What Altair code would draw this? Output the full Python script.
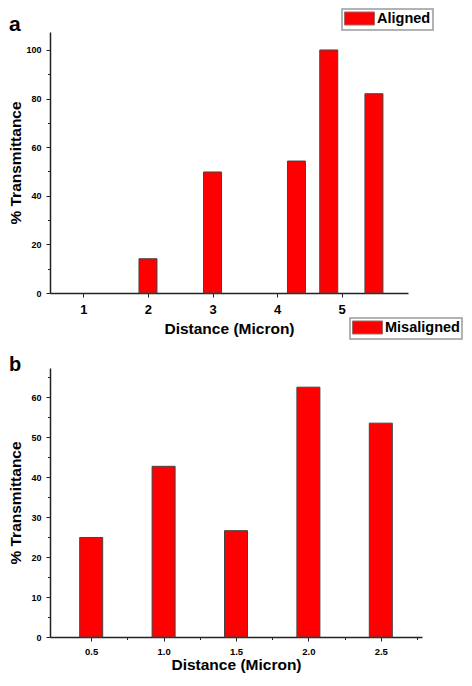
import altair as alt
import pandas as pd

# ---- data ----
a_distance = [2.0, 3.0, 4.3, 4.8, 5.5]
a_transmittance = [14.1, 49.8, 54.3, 100.0, 82.0]
a_series = ["Aligned"] * 5

b_distance = [0.5, 1.0, 1.5, 2.0, 2.5]
b_transmittance = [24.9, 42.7, 26.6, 62.5, 53.5]
b_series = ["Misaligned"] * 5

a_x_ticks = [1, 1.5, 2, 2.5, 3, 3.5, 4, 4.5, 5, 5.5]
a_y_ticks = [0, 10, 20, 30, 40, 50, 60, 70, 80, 90, 100]
b_x_ticks = [0.5, 0.75, 1.0, 1.25, 1.5, 1.75, 2.0, 2.25, 2.5, 2.75]
b_y_ticks = [0, 5, 10, 15, 20, 25, 30, 35, 40, 45, 50, 55, 60, 65]

df_a = pd.DataFrame({"distance": a_distance, "transmittance": a_transmittance, "series": a_series})
df_b = pd.DataFrame({"distance": b_distance, "transmittance": b_transmittance, "series": b_series})

FONT = "Liberation Sans"
RED = "#ff0000"
SWATCH = "M-1,-0.93L3.29,-0.93L3.29,0.93L-1,0.93Z"


def axis(values, title, major_test, label_size, fmt, label_pad=5, title_pad=4):
    return alt.Axis(
        values=values,
        title=title,
        format=fmt,
        labelExpr=f"({major_test}) ? datum.label : ''",
        tickSize={"condition": {"test": f"!({major_test})", "value": 2.5}, "value": 4},
        labelFontSize=label_size,
        labelFont=FONT,
        labelFontWeight="bold",
        labelColor="black",
        labelPadding=label_pad,
        titleFont=FONT,
        titleFontSize=15.5,
        titleFontWeight="bold",
        titleColor="black",
        titlePadding=title_pad,
        domainColor="#222",
        domainWidth=1.5,
        tickColor="#222",
        tickWidth=1,
        grid=False,
        labelFlush=False,
        labelOverlap=False,
    )


def legend(x, y):
    return alt.Legend(
        title=None,
        orient="none",
        legendX=x,
        legendY=y,
        symbolType=SWATCH,
        symbolSize=196,
        symbolStrokeColor="#a06a6a",
        symbolStrokeWidth=1,
        labelFont=FONT,
        labelFontSize=14.5,
        labelFontWeight="bold",
        labelColor="black",
        labelOffset=18,
        strokeColor="#9a9a9a",
        fillColor="white",
        padding=2,
    )


panel_a = alt.Chart(df_a).mark_bar(size=18, stroke="#444", strokeWidth=1).encode(
    x=alt.X("distance:Q",
            scale=alt.Scale(domain=[0.56, 5.95], nice=False, zero=False),
            axis=axis(a_x_ticks, "Distance (Micron)", "datum.value % 1 == 0", 13, "d",
                      label_pad=6, title_pad=5)),
    y=alt.Y("transmittance:Q",
            scale=alt.Scale(domain=[0, 107.4], nice=False),
            axis=axis(a_y_ticks, "% Transmittance", "datum.value % 20 == 0", 9, "d",
                      label_pad=5, title_pad=2)),
    color=alt.Color("series:N", scale=alt.Scale(domain=["Aligned"], range=[RED]),
                    legend=legend(292, -23)),
).properties(
    width=358, height=261,
    title=alt.TitleParams("a", anchor="start", frame="bounds", font=FONT, fontSize=21,
                          fontWeight="bold", color="black", offset=-32, dy=-5),
)

panel_b = alt.Chart(df_b).mark_bar(size=23, stroke="#444", strokeWidth=1).encode(
    x=alt.X("distance:Q",
            scale=alt.Scale(domain=[0.25, 2.75], nice=False, zero=False),
            axis=axis(b_x_ticks, "Distance (Micron)", "(datum.value * 2) % 1 == 0", 9.5, ".1f",
                      label_pad=5, title_pad=2)),
    y=alt.Y("transmittance:Q",
            scale=alt.Scale(domain=[0, 67.3], nice=False),
            axis=axis(b_y_ticks, "% Transmittance", "datum.value % 10 == 0", 9, "d",
                      label_pad=5, title_pad=7)),
    color=alt.Color("series:N", scale=alt.Scale(domain=["Misaligned"], range=[RED]),
                    legend=legend(300, -50)),
).properties(
    width=372, height=269,
    title=alt.TitleParams("b", anchor="start", frame="bounds", font=FONT, fontSize=20,
                          fontWeight="bold", color="black", offset=-57.5),
)

chart = alt.vconcat(panel_a, panel_b, spacing=75, bounds="flush").resolve_scale(
    color="independent"
).properties(
    padding=0,
    background="white",
).configure_view(stroke=None).configure_legend(strokeWidth=1.5)

chart.save("out.html", embed_options={"renderer": "svg", "actions": False})
